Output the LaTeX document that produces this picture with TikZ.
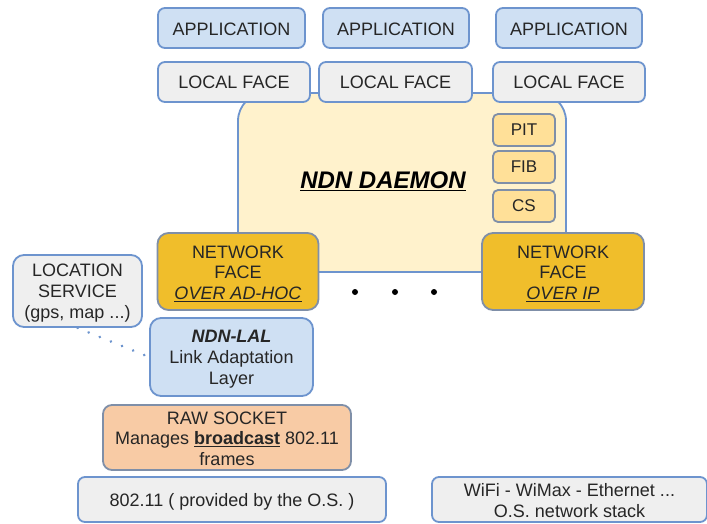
\documentclass[tikz,border=0pt]{standalone}
\usepackage{fontspec}
\setmainfont{Liberation Sans}
\newcommand{\txt}[1]{\fontsize{#1}{20.8}\selectfont}
\newcommand{\lift}[1]{\rule{0pt}{#1pt}}
\definecolor{edgeblue}{HTML}{6D94CE}
\definecolor{edgegrey}{HTML}{7F8FA8}
\definecolor{appfill}{HTML}{CFE0F3}
\definecolor{facefill}{HTML}{EFEFEF}
\definecolor{daemonfill}{HTML}{FFF2CC}
\definecolor{tablefill}{HTML}{FFE098}
\definecolor{netfill}{HTML}{F0BE2B}
\definecolor{rawfill}{HTML}{F8CBA5}
\definecolor{inktext}{HTML}{262626}
\tikzset{
  px/.style={x=1pt,y=-1pt},
  boxbase/.style={draw=edgeblue,line width=1.8pt,rounded corners=7pt,align=center,inner sep=0pt,text=inktext,font=\txt{18}},
  appbox/.style={boxbase,fill=appfill,minimum height=40pt},
  facebox/.style={boxbase,fill=facefill,minimum height=40pt},
  daemonbox/.style={boxbase,fill=daemonfill,rounded corners=28pt},
  tablebox/.style={boxbase,fill=tablefill,draw=edgegrey,rounded corners=5pt,font=\txt{17},minimum width=62pt,minimum height=32pt},
  netbox/.style={boxbase,fill=netfill,draw=edgegrey,rounded corners=11pt,minimum height=77pt},
  lalbox/.style={boxbase,fill=appfill,rounded corners=11pt},
  rawbox/.style={boxbase,fill=rawfill,draw=edgegrey,rounded corners=9pt},
  dotmark/.style={circle,fill=black,inner sep=0pt,minimum size=6pt},
  dotlink/.style={edgeblue,line width=2.8pt,line cap=round,dash pattern=on 0.1pt off 11.9pt},
}
\begin{document}
\begin{tikzpicture}[px]
\useasboundingbox (0,0) rectangle (707,523);
\fill[white] (0,0) rectangle (707,523);
\node[daemonbox,minimum width=328pt,minimum height=179pt] (daemon) at (402,182.5) {};
\node[font=\txt{24}\bfseries\itshape,text=black] (title) at (383,181) {\underline{NDN DAEMON}};
\node[appbox,minimum width=147pt] (app1) at (231.5,28) {\lift{15}APPLICATION};
\node[appbox,minimum width=146pt] (app2) at (396,28) {\lift{15}APPLICATION};
\node[appbox,minimum width=146pt] (app3) at (569,28) {\lift{15}APPLICATION};
\node[facebox,minimum width=152pt] (lf1) at (234,82) {LOCAL FACE};
\node[facebox,minimum width=153pt] (lf2) at (395.5,82) {LOCAL FACE};
\node[facebox,minimum width=152pt] (lf3) at (569,82) {LOCAL FACE};
\node[tablebox] (pit) at (524,130) {PIT};
\node[tablebox] (fib) at (524,167) {FIB};
\node[tablebox] (cs) at (524,206) {CS};
\node[netbox,minimum width=161pt] (net1) at (238,271.5) {\lift{17}NETWORK\\FACE\\\textit{\underline{OVER AD-HOC}}};
\node[netbox,minimum width=162pt] (net2) at (563,271.5) {\lift{17}NETWORK\\FACE\\\textit{\underline{OVER IP}}};
\node[dotmark] (d1) at (355,292) {};
\node[dotmark] (d2) at (395,292) {};
\node[dotmark] (d3) at (434,292) {};
\node[facebox,rounded corners=11pt,minimum width=129pt,minimum height=72pt] (loc) at (77.5,291) {\lift{17}LOCATION\\SERVICE\\(gps, map ...)};
\node[lalbox,minimum width=163pt,minimum height=78pt] (lal) at (231.5,357) {\lift{17}\textbf{\textit{NDN-LAL}}\\Link Adaptation\\Layer};
\node[rawbox,minimum width=248pt,minimum height=65pt] (raw) at (227,437.5) {\lift{15}RAW SOCKET\\Manages \textbf{\underline{broadcast}} 802.11\\frames};
\node[facebox,minimum width=308pt,minimum height=45pt] (os) at (232,499.5) {\lift{17}802.11 ( provided by the O.S. )};
\node[facebox,minimum width=275pt,minimum height=45pt] (stack) at (569.5,499.5) {\lift{15}WiFi - WiMax - Ethernet ...\\O.S. network stack};
\draw[dotlink] (loc.south) -- (lal.west);
\end{tikzpicture}
\end{document}
